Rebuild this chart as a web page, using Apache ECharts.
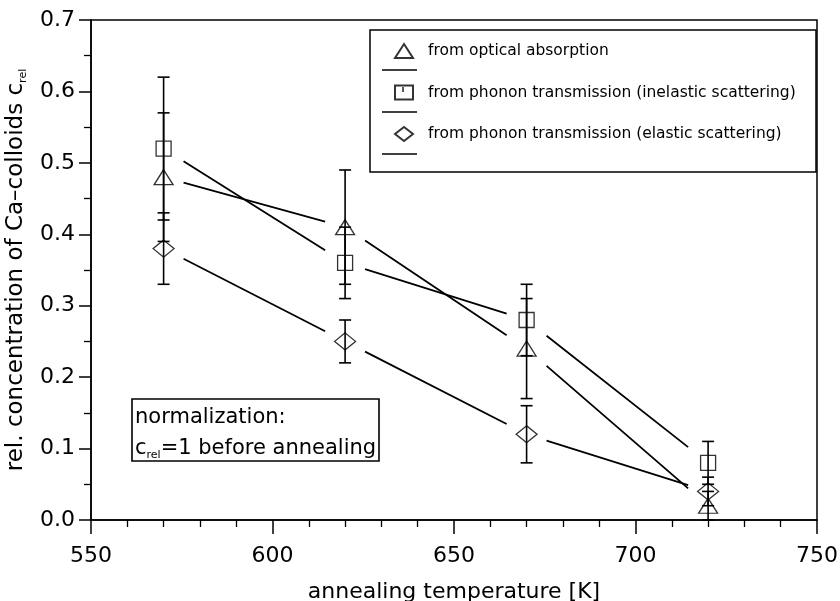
<!DOCTYPE html>
<html>
<head>
<meta charset="utf-8">
<script src="https://cdn.jsdelivr.net/npm/echarts@6/dist/echarts.min.js"></script>
<style>
  html, body { margin: 0; padding: 0; background: #fff; }
  #chart { width: 840px; height: 601px; }
</style>
</head>
<body>
<div id="chart"></div>
<script>
// annealing temperatures [K]
const temps = [570, 620, 670, 720];

// c_rel values and error bar half widths
const optical = [0.48, 0.41, 0.24, 0.02];
const opticalErr = [0.09, 0.08, 0.07, 0.02];
const inelastic = [0.52, 0.36, 0.28, 0.08];
const inelasticErr = [0.10, 0.05, 0.05, 0.03];
const elastic = [0.38, 0.25, 0.12, 0.04];
const elasticErr = [0.05, 0.03, 0.04, 0.02];

// axis ticks
const xTicks = [550, 600, 650, 700, 750];
const yTicks = [0.0, 0.1, 0.2, 0.3, 0.4, 0.5, 0.6, 0.7];

const names = [
    'from optical absorption',
    'from phonon transmission (inelastic scattering)',
    'from phonon transmission (elastic scattering)'
];

const FONT = 'DejaVu Sans';

document.addEventListener('DOMContentLoaded', () => {
    const chart = echarts.init(document.getElementById('chart'));

    // [x, low, high] rows for the error bars
    function errRows(vals, errs) {
        return temps.map((t, i) => [t, vals[i] - errs[i], vals[i] + errs[i]]);
    }

    // straight pieces between neighbouring points, left open near the markers
    function fitPieces(vals) {
        const gap = 5.5;
        const out = [];
        for (let i = 0; i < temps.length - 1; i++) {
            const k = (vals[i + 1] - vals[i]) / (temps[i + 1] - temps[i]);
            out.push([temps[i] + gap, vals[i] + k * gap]);
            out.push([temps[i + 1] - gap, vals[i + 1] - k * gap]);
            if (i < temps.length - 2) out.push([temps[i + 1], '-']);
        }
        return out;
    }

    function renderErrorBar(params, api) {
        const x = api.value(0);
        const lo = api.coord([x, api.value(1)]);
        const hi = api.coord([x, api.value(2)]);
        const w = 6;
        const style = { stroke: '#000', lineWidth: 1.6 };
        return {
            type: 'group',
            children: [
                { type: 'line', shape: { x1: lo[0], y1: lo[1], x2: hi[0], y2: hi[1] }, style },
                { type: 'line', shape: { x1: lo[0] - w, y1: lo[1], x2: lo[0] + w, y2: lo[1] }, style },
                { type: 'line', shape: { x1: hi[0] - w, y1: hi[1], x2: hi[0] + w, y2: hi[1] }, style }
            ]
        };
    }

    function errorSeries(vals, errs) {
        return {
            type: 'custom',
            renderItem: renderErrorBar,
            data: errRows(vals, errs),
            encode: { x: 0, y: [1, 2] },
            silent: true,
            z: 2
        };
    }

    function fitSeries(vals) {
        return {
            type: 'line',
            data: fitPieces(vals),
            symbol: 'none',
            connectNulls: false,
            lineStyle: { color: '#000', width: 1.8 },
            silent: true,
            z: 1
        };
    }

    function pointSeries(name, vals, symbol, size) {
        return {
            name: name,
            type: 'scatter',
            data: temps.map((t, i) => [t, vals[i]]),
            symbol: symbol,
            symbolSize: size,
            itemStyle: { color: 'rgba(0,0,0,0)', borderColor: '#000', borderWidth: 1.3 },
            z: 3
        };
    }

    const subRich = {
        sub: { fontFamily: FONT, fontSize: 11, color: '#000', verticalAlign: 'bottom', lineHeight: 14 }
    };

    const options = {
        animation: false,
        backgroundColor: '#fff',
        grid: {
            left: 91, right: 23, top: 20, bottom: 81,
            outerBoundsMode: 'none',
            containLabel: false,
            show: true, borderColor: '#000', borderWidth: 1.5, backgroundColor: 'transparent'
        },
        xAxis: {
            type: 'value',
            min: xTicks[0],
            max: xTicks[xTicks.length - 1],
            interval: xTicks[1] - xTicks[0],
            name: 'annealing temperature [K]',
            nameLocation: 'middle',
            nameGap: 61,
            nameTextStyle: { fontFamily: FONT, fontSize: 22, color: '#000' },
            axisLine: { lineStyle: { color: '#000', width: 1.5 } },
            axisTick: { inside: false, length: 14, lineStyle: { color: '#000', width: 1.5 } },
            minorTick: { show: true, splitNumber: 5, length: 7, lineStyle: { color: '#000', width: 1.3 } },
            axisLabel: { fontFamily: FONT, fontSize: 22, color: '#000', margin: 25 },
            splitLine: { show: false }
        },
        yAxis: {
            type: 'value',
            min: yTicks[0],
            max: yTicks[yTicks.length - 1],
            interval: 0.1,
            name: 'rel. concentration of Ca\u2013colloids c{sub|rel}',
            nameLocation: 'middle',
            nameGap: 59,
            nameTextStyle: { fontFamily: FONT, fontSize: 23, color: '#000', lineHeight: 26, rich: subRich },
            axisLine: { lineStyle: { color: '#000', width: 1.5 } },
            axisTick: { inside: false, length: 12, lineStyle: { color: '#000', width: 1.5 } },
            minorTick: { show: true, splitNumber: 2, length: 7, lineStyle: { color: '#000', width: 1.3 } },
            axisLabel: {
                fontFamily: FONT, fontSize: 22, color: '#000', margin: 16,
                formatter: v => v.toFixed(1)
            },
            splitLine: { show: false }
        },
        legend: {
            data: names,
            orient: 'vertical',
            left: 394,
            top: 43,
            itemWidth: 18,
            itemHeight: 14,
            itemGap: 25.5,
            padding: 0,
            selectedMode: false,
            textStyle: { fontFamily: FONT, fontSize: 15.5, color: '#000', lineHeight: 16, padding: [0, 0, 0, 10] }
        },
        graphic: [
            // legend frame and line keys
            { type: 'rect', shape: { x: 370, y: 30, width: 446, height: 142 },
              style: { fill: null, stroke: '#000', lineWidth: 1.5 }, z: 10 },
            { type: 'line', shape: { x1: 382, y1: 70, x2: 417, y2: 70 }, style: { stroke: '#000', lineWidth: 1.5 }, z: 10 },
            { type: 'line', shape: { x1: 382, y1: 112, x2: 417, y2: 112 }, style: { stroke: '#000', lineWidth: 1.5 }, z: 10 },
            { type: 'line', shape: { x1: 382, y1: 154, x2: 417, y2: 154 }, style: { stroke: '#000', lineWidth: 1.5 }, z: 10 },
            { type: 'line', shape: { x1: 403, y1: 87, x2: 403, y2: 92 }, style: { stroke: '#000', lineWidth: 1.3 }, z: 10 },
            // normalization note
            { type: 'rect', shape: { x: 132, y: 399, width: 247, height: 62 },
              style: { fill: '#fff', stroke: '#000', lineWidth: 1.6 }, z: 10 },
            { type: 'text', x: 135, y: 418, z: 11,
              style: { text: 'normalization:', fontFamily: FONT, fontSize: 21, fill: '#000', verticalAlign: 'middle' } },
            { type: 'text', x: 135, y: 449, z: 11,
              style: {
                  text: 'c{sub|rel}=1 before annealing', fontFamily: FONT, fontSize: 21, fill: '#000',
                  verticalAlign: 'middle', lineHeight: 24, rich: subRich
              } }
        ],
        series: [
            fitSeries(optical),
            fitSeries(inelastic),
            fitSeries(elastic),
            errorSeries(optical, opticalErr),
            errorSeries(inelastic, inelasticErr),
            errorSeries(elastic, elasticErr),
            pointSeries(names[0], optical, 'triangle', [19, 15]),
            pointSeries(names[1], inelastic, 'rect', [15, 15]),
            pointSeries(names[2], elastic, 'diamond', [21, 17])
        ]
    };

    chart.setOption(options);
});
</script>
</body>
</html>
